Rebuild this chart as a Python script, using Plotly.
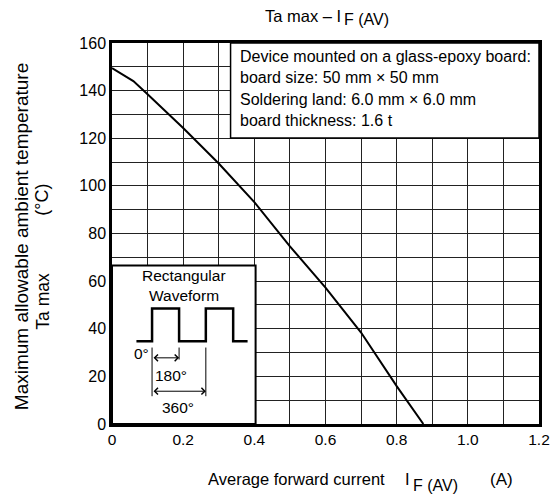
import plotly.graph_objects as go

# Data
current_a = [0.0, 0.06, 0.1, 0.2, 0.3, 0.4, 0.5, 0.6, 0.7, 0.8, 0.875]
ta_max_c = [149.5, 144, 138.5, 124.3, 109.4, 93.2, 74.6, 57.3, 38.4, 15.9, 0]

x_tickvals = [0, 0.2, 0.4, 0.6, 0.8, 1.0, 1.2]
x_ticktext = ["0", "0.2", "0.4", "0.6", "0.8", "1.0", "1.2"]
y_tickvals = [0, 20, 40, 60, 80, 100, 120, 140, 160]

note_lines = [
    "Device mounted on a glass-epoxy board:",
    "board size: 50 mm \u00d7 50 mm",
    "Soldering land: 6.0 mm \u00d7 6.0 mm",
    "board thickness: 1.6 t",
]

FONT = "Arial, Liberation Sans, sans-serif"

# screen geometry of the plot area
PL, PR, PT, PB = 112.3, 538.7, 43.3, 424.5
W, H = 553, 497


def px(sx):
    return (sx - PL) / (PR - PL)


def py(sy):
    return (PB - sy) / (PB - PT)


def dx(sx):
    return (sx - PL) / (PR - PL) * 1.2


def dy(sy):
    return (PB - sy) / (PB - PT) * 160


fig = go.Figure()

fig.add_trace(go.Scatter(
    x=current_a, y=ta_max_c, mode="lines",
    line=dict(color="black", width=2), hoverinfo="skip", showlegend=False,
))

shapes = []
annotations = []


def txt(x, y, text, size, xref="paper", yref="paper", xanchor="center", angle=0):
    annotations.append(dict(xref=xref, yref=yref, x=x, y=y, text=text, showarrow=False,
                            xanchor=xanchor, yanchor="middle", textangle=angle,
                            font=dict(family=FONT, size=size, color="black")))


# note box top-right
shapes.append(dict(type="rect", xref="x", yref="y", x0=dx(230.7), x1=1.2, y0=dy(138.3), y1=160,
                   fillcolor="white", line=dict(color="black", width=1.5), layer="above"))
for t, sy in zip(note_lines, [57.0, 78.3, 99.6, 120.9]):
    txt(dx(238.3), dy(sy), t, 16, xref="x", yref="y", xanchor="left")

# inset box bottom-left
shapes.append(dict(type="rect", xref="x", yref="y", x0=0.0, x1=dx(255.7), y0=0, y1=dy(266),
                   fillcolor="white", line=dict(color="black", width=2), layer="above"))
txt(dx(184), dy(275.5), "Rectangular", 15.5, "x", "y")
txt(dx(184), dy(295.5), "Waveform", 15.5, "x", "y")
wsx = [136.7, 152.3, 152.3, 179.3, 179.3, 206, 206, 233.3, 233.3, 247.7]
wsy = [341.7, 341.7, 309, 309, 341.7, 341.7, 309, 309, 341.7, 341.7]
path = "M " + " L ".join(f"{dx(a)},{dy(b)}" for a, b in zip(wsx, wsy))
shapes.append(dict(type="path", xref="x", yref="y", path=path,
                   line=dict(color="black", width=2.5), layer="above"))
for gx, y0 in [(152.3, 396.7), (179.3, 360), (206, 396.7)]:
    shapes.append(dict(type="line", xref="x", yref="y", x0=dx(gx), x1=dx(gx), y0=dy(y0), y1=dy(348),
                       line=dict(color="black", width=1), layer="above"))
for x0, x1, yy in [(152.3, 179.3, 358.3), (152.3, 206, 391.7)]:
    annotations.append(dict(xref="x", yref="y", axref="x", ayref="y", x=dx(x1), y=dy(yy), ax=dx(x0), ay=dy(yy),
                            text="", showarrow=True, arrowhead=4, arrowside="end+start",
                            arrowsize=1.3, arrowwidth=1, arrowcolor="black", standoff=0, startstandoff=0))
txt(dx(142), dy(353.5), "0\u00b0", 15.5, "x", "y")
txt(dx(171), dy(376), "180\u00b0", 15.5, "x", "y")
txt(dx(178.5), dy(408), "360\u00b0", 15.5, "x", "y")

# title
txt(px(263.3), py(16), "Ta max \u2013 I", 16.5, xanchor="left")
txt(px(341.7), py(19.5), "F (AV)", 16, xanchor="left")
# x axis title
txt(px(206), py(480), "Average forward current", 16.5, xanchor="left")
txt(px(402.7), py(480), "I", 16.5, xanchor="left")
txt(px(410.5), py(486), "F (AV)", 16, xanchor="left")
txt(px(487.3), py(480), "(A)", 17, xanchor="left")
# y axis titles
txt(px(21.5), py(237.5), "Maximum allowable ambient temperature", 19, angle=-90)
txt(px(43), py(301.5), "Ta max", 17.5, angle=-90)
txt(px(43), py(200.5), "(\u00b0C)", 18, angle=-90)

fig.update_layout(
    width=W, height=H,
    margin=dict(l=PL, r=W - PR, t=PT, b=H - PB, autoexpand=False),
    paper_bgcolor="white", plot_bgcolor="white",
    shapes=shapes, annotations=annotations,
    font=dict(family=FONT, size=15, color="black"),
    showlegend=False,
)
fig.update_xaxes(range=[0, 1.2], tickvals=x_tickvals, ticktext=x_ticktext, automargin=False,
                 showgrid=False, zeroline=False, showline=True, linecolor="black", linewidth=2.5,
                 mirror=True, ticks="", ticklen=0,
                 minor=dict(dtick=0.1, showgrid=True, gridcolor="#222", gridwidth=1, tick0=0),
                 tickfont=dict(family=FONT, size=15.5))
fig.update_yaxes(range=[0, 160], tickvals=y_tickvals, automargin=False,
                 showgrid=True, gridcolor="#222", gridwidth=1, zeroline=False,
                 showline=True, linecolor="black", linewidth=2.5, mirror=True, ticks="",
                 minor=dict(dtick=10, showgrid=True, gridcolor="#222", gridwidth=1, tick0=0),
                 tickfont=dict(family=FONT, size=16))

fig.write_html("out.html", config={"displayModeBar": False},
               post_script="document.body.style.margin='0';document.body.style.overflow='hidden';")
